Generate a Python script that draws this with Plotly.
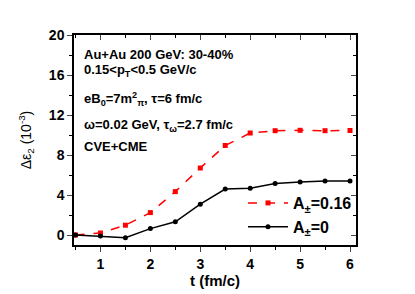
import plotly.graph_objects as go

t = [0.5, 1, 1.5, 2, 2.5, 3, 3.5, 4, 4.5, 5, 5.5, 6]
de2_A016 = [0.0, 0.2, 0.98, 2.24, 4.34, 6.7, 8.95, 10.2, 10.43, 10.47, 10.43, 10.45]
de2_A0 = [0.0, -0.1, -0.27, 0.64, 1.32, 3.08, 4.6, 4.68, 5.15, 5.29, 5.39, 5.39]
yticks = [0, 4, 8, 12, 16, 20]
xticks = [1, 2, 3, 4, 5, 6]

font_main = "Liberation Sans, Arial, sans-serif"

# page has an 8px body margin; compensate so the plot area lands at x 74-356, y 35-245
OFF = 8
W, H = 415, 294
L, R, T, B = 74 - OFF, W - (356 - OFF), 35 - OFF, H - (245 - OFF)
PW, PH = W - L - R, H - T - B

fig = go.Figure()
fig.add_trace(go.Scatter(
    x=t, y=de2_A016, mode="lines+markers", name="<b>A<sub>±</sub>=0.16</b>",
    line=dict(color="#ff0000", dash="dash", width=1.5),
    marker=dict(symbol="square", size=5, color="#ff0000"),
))
fig.add_trace(go.Scatter(
    x=t, y=de2_A0, mode="lines+markers", name="<b>A<sub>±</sub>=0</b>",
    line=dict(color="black", width=1.5),
    marker=dict(symbol="circle", size=5, color="black"),
))
# dummy trace for mirrored axes
fig.add_trace(go.Scatter(x=[None], y=[None], xaxis="x2", yaxis="y2", showlegend=False))

xr = [0.47, 6.12]
yr = [-1, 20]

fig.update_layout(
    width=W, height=H,
    margin=dict(l=L, r=R, t=T, b=B, autoexpand=False),
    paper_bgcolor="white", plot_bgcolor="white",
    font=dict(family=font_main, color="black"),
    showlegend=True,
    legend=dict(x=(243 - 74) / PW, y=(245 - 186) / PH, xanchor="left", yanchor="top",
                bgcolor="rgba(0,0,0,0)", font=dict(size=16, family=font_main),
                itemwidth=40),
    xaxis=dict(range=xr, tickvals=xticks, ticktext=[f"<b>{v}</b>" for v in xticks],
               ticks="outside", ticklen=5, tickwidth=1, showgrid=False, zeroline=False,
               showline=True, linecolor="black", linewidth=1.5, automargin=False,
               minor=dict(dtick=0.5, ticks="outside", ticklen=3, tickcolor="black"),
               tickfont=dict(size=14), title=dict(text="<b>t (fm/c)</b>", font=dict(size=15), standoff=2)),
    yaxis=dict(range=yr, tickvals=yticks, ticktext=[f"<b>{v}</b>" for v in yticks],
               ticks="outside", ticklen=5, tickwidth=1, showgrid=False, zeroline=False,
               showline=True, linecolor="black", linewidth=1.5, automargin=False,
               minor=dict(tickvals=[2, 6, 10, 14, 18], ticks="outside", ticklen=3, tickcolor="black"),
               tickfont=dict(size=14),
               title=dict(text="Δε<sub>2</sub> (10<sup>-3</sup>)", font=dict(size=14), standoff=14)),
    xaxis2=dict(range=xr, overlaying="x", side="top", tickvals=xticks, showticklabels=False,
                ticks="inside", ticklen=5, showgrid=False, zeroline=False, automargin=False,
                showline=True, linecolor="black", linewidth=1.5,
                minor=dict(dtick=0.5, ticks="inside", ticklen=3, tickcolor="black")),
    yaxis2=dict(range=yr, overlaying="y", side="right", tickvals=yticks, showticklabels=False,
                ticks="inside", ticklen=5, showgrid=False, zeroline=False, automargin=False,
                showline=True, linecolor="black", linewidth=1.5,
                minor=dict(tickvals=[2, 6, 10, 14, 18], ticks="inside", ticklen=3, tickcolor="black")),
)

notes = [
    ("<b>Au+Au 200 GeV: 30-40%</b>", 54),
    ("<b>0.15&lt;p<sub>T</sub>&lt;0.5 GeV/c</b>", 71),
    ("<b>eB<sub>0</sub>=7m<sup>2</sup><sub>π</sub>, τ=6 fm/c</b>", 99),
    ("<b>ω=0.02 GeV, τ<sub>ω</sub>=2.7 fm/c</b>", 125),
    ("<b>CVE+CME</b>", 146),
]
for txt, ypx in notes:
    fig.add_annotation(text=txt, xref="paper", yref="paper",
                       x=(82 - 74) / PW, y=(245 - ypx) / PH,
                       xanchor="left", yanchor="middle", showarrow=False,
                       font=dict(size=13, family=font_main))

fig.write_html("out.html")
